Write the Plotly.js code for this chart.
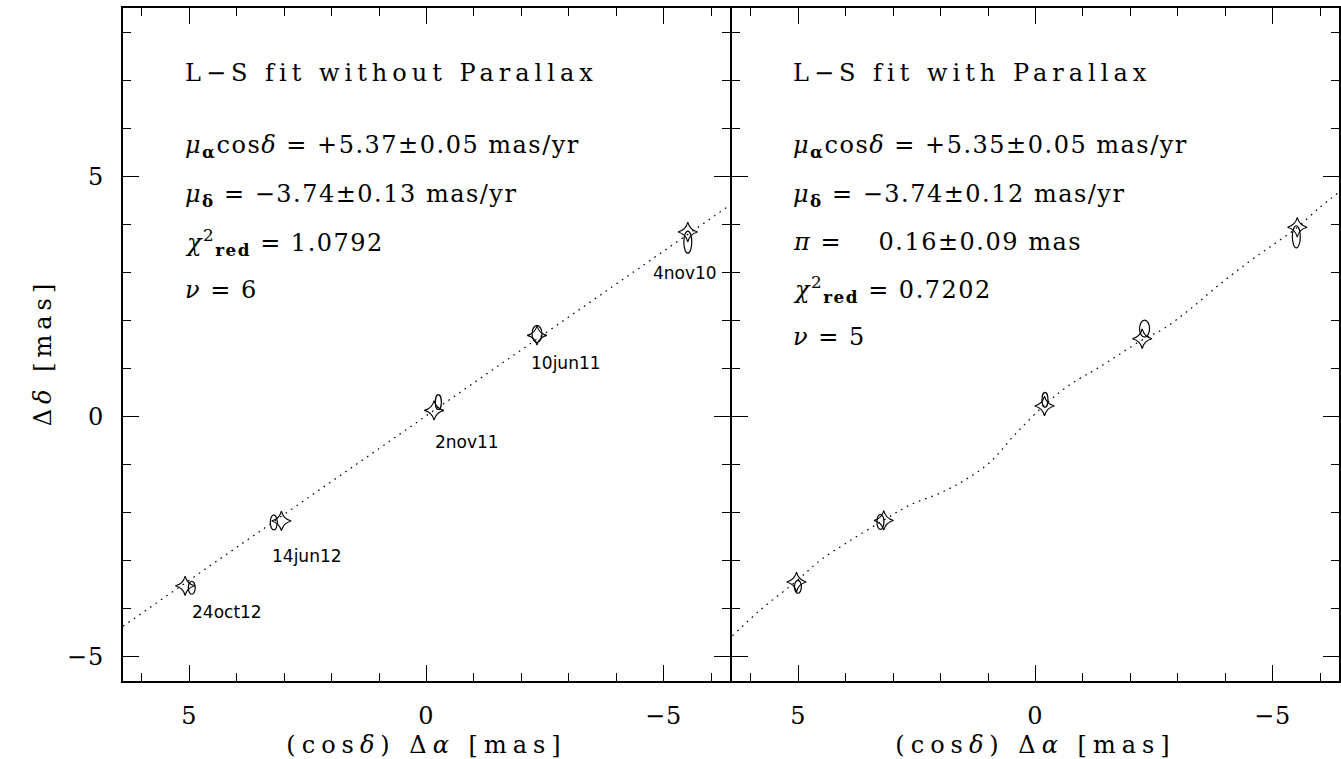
<!DOCTYPE html>
<html><head><meta charset="utf-8">
<script src="https://cdn.plot.ly/plotly-3.0.1.min.js"></script>
<style>
html,body{margin:0;padding:0;background:#fff;}
</style></head><body>
<div id="chart" style="width:1341px;height:759px;"></div>
<script>
// ---------------- data (mas) ----------------
const epochs = ['24oct12', '14jun12', '2nov11', '10jun11', '4nov10'];

// Left panel: L-S fit without parallax
const modelX_noPar = [5.09, 3.06, -0.16, -2.33, -5.51];
const modelY_noPar = [-3.52, -2.17, 0.13, 1.69, 3.84];
const obsX_noPar = [4.95, 3.22, -0.25, -2.33, -5.51];
const obsY_noPar = [-3.56, -2.20, 0.30, 1.72, 3.63];
const fitX_noPar = [6.4, -6.4];
const fitY_noPar = [-4.36, 4.40];

// Right panel: L-S fit with parallax
const modelX_par = [5.04, 3.20, -0.19, -2.25, -5.52];
const modelY_par = [-3.44, -2.16, 0.22, 1.62, 3.94];
const obsX_par = [5.01, 3.27, -0.20, -2.30, -5.50];
const obsY_par = [-3.54, -2.19, 0.35, 1.83, 3.74];
const fitX_par = [6.39, 5.80, 5.04, 4.54, 3.91, 3.21, 2.65, 2.01, 1.49, 0.96, 0.44, -0.19, -0.72, -1.35, -2.24, -2.72, -3.24, -3.87, -4.50, -5.03, -5.50, -5.98, -6.40];
const fitY_par = [-4.56, -4.02, -3.42, -2.99, -2.58, -2.16, -1.84, -1.59, -1.32, -0.95, -0.38, 0.24, 0.66, 1.03, 1.59, 1.84, 2.22, 2.74, 3.22, 3.59, 3.92, 4.34, 4.67];

// Position error semi-axes of each epoch (mas)
const errX = [0.073, 0.074, 0.063, 0.105, 0.084];
const errY = [0.135, 0.156, 0.156, 0.177, 0.230];

// Fit results text
const leftTitle = 'L\u2212S fit without Parallax';
const rightTitle = 'L\u2212S fit with Parallax';
const leftStats = [
  '<i>\u03bc</i><sub><b>\u03b1</b></sub>cos<i>\u03b4</i> = +5.37\u00b10.05 mas/yr',
  '<i>\u03bc</i><sub><b>\u03b4</b></sub> = \u22123.74\u00b10.13 mas/yr',
  '<i>\u03c7</i><sup>2</sup><sub><b>red</b></sub> = 1.0792',
  '<i>\u03bd</i> = 6'
];
const rightStats = [
  '<i>\u03bc</i><sub><b>\u03b1</b></sub>cos<i>\u03b4</i> = +5.35\u00b10.05 mas/yr',
  '<i>\u03bc</i><sub><b>\u03b4</b></sub> = \u22123.74\u00b10.12 mas/yr',
  '<i>\u03c0</i> = \u00a0\u00a0 0.16\u00b10.09 mas',
  '<i>\u03c7</i><sup>2</sup><sub><b>red</b></sub> = 0.7202',
  '<i>\u03bd</i> = 5'
];

// ---------------- styling ----------------
const serif = 'DejaVu Serif';
const black = '#000';
// label offsets (px) of epoch names relative to model point
const labelDX = [42, 26, 33, 29, -3];
const labelDY = [-26, -35, -32, -28, -41];

const starMarker = {symbol: 'star-diamond-open', size: 14, color: black, line: {color: black, width: 1.1}};
const traces = [
  {x: fitX_noPar, y: fitY_noPar, xaxis: 'x', yaxis: 'y', mode: 'lines',
   line: {color: black, width: 1.2, dash: '1.6px,5px'}, hoverinfo: 'skip', showlegend: false},
  {x: modelX_noPar, y: modelY_noPar, text: epochs, xaxis: 'x', yaxis: 'y', mode: 'markers',
   marker: starMarker, showlegend: false},
  {x: fitX_par, y: fitY_par, xaxis: 'x2', yaxis: 'y2', mode: 'lines',
   line: {color: black, width: 1.2, dash: '1.6px,5px', shape: 'spline', smoothing: 1}, hoverinfo: 'skip', showlegend: false},
  {x: modelX_par, y: modelY_par, text: epochs, xaxis: 'x2', yaxis: 'y2', mode: 'markers',
   marker: starMarker, showlegend: false}
];

const shapes = [];
function addEllipses(xs, ys, xr, yr) {
  xs.forEach((cx, i) => {
    shapes.push({type: 'circle', xref: xr, yref: yr,
      x0: cx - errX[i], x1: cx + errX[i], y0: ys[i] - errY[i], y1: ys[i] + errY[i],
      line: {color: black, width: 1.2}, fillcolor: 'rgba(0,0,0,0)'});
  });
}
addEllipses(obsX_noPar, obsY_noPar, 'x', 'y');
addEllipses(obsX_par, obsY_par, 'x2', 'y2');

const annotations = [];
epochs.forEach((e, i) => {
  annotations.push({xref: 'x', yref: 'y', x: modelX_noPar[i], y: modelY_noPar[i], text: e,
    showarrow: false, xshift: labelDX[i], yshift: labelDY[i],
    font: {family: 'DejaVu Sans', size: 17, color: black}});
});
const lineY = [0.7935, 0.7221, 0.6523, 0.5810, 0.5111];
function textNote(x, y, t) {
  return {xref: 'paper', yref: 'paper', x: x, y: y, xanchor: 'left', yanchor: 'middle', align: 'left',
    text: t, showarrow: false, font: {family: serif, size: 24, color: black}};
}
const leftTextX = 0.0493, rightTextX = 0.5494;
annotations.push(textNote(leftTextX, 0.9034, leftTitle));
annotations.push(textNote(rightTextX, 0.9034, rightTitle));
leftStats.forEach((t, i) => annotations.push(textNote(leftTextX, lineY[i], t)));
rightStats.forEach((t, i) => annotations.push(textNote(rightTextX, lineY[i], t)));

function axis(extra) {
  return Object.assign({
    showline: true, linewidth: 2, linecolor: black, mirror: 'ticks',
    ticks: 'inside', ticklen: 16, tickwidth: 1.2, tickcolor: black,
    showgrid: false, zeroline: false, tick0: 0, dtick: 5,
    minor: {dtick: 1, ticks: 'inside', ticklen: 8, tickwidth: 1.2, tickcolor: black, showgrid: false},
    tickfont: {family: serif, size: 24, color: black}, ticklabelstandoff: 12,
    fixedrange: true
  }, extra);
}

const xTitle = {text: '(cos<i>\u03b4</i>) \u0394<i>\u03b1</i> [mas]', font: {family: serif, size: 24, color: black}, standoff: 8};

const layout = {
  width: 1341, height: 759,
  margin: {l: 123, r: 2, t: 8, b: 78},
  paper_bgcolor: '#fff', plot_bgcolor: '#fff',
  showlegend: false,
  xaxis: axis({domain: [0, 607 / 1216], range: [6.4, -6.4], anchor: 'y', title: xTitle}),
  xaxis2: axis({domain: [609 / 1216, 1], range: [6.4, -6.4], anchor: 'y2', title: xTitle}),
  yaxis: axis({domain: [0, 1], range: [-5.5, 8.5], anchor: 'x',
    title: {text: '\u0394<i>\u03b4</i> [mas]', font: {family: serif, size: 24, color: black}, standoff: 10}}),
  yaxis2: axis({domain: [0, 1], range: [-5.5, 8.5], anchor: 'x2', showticklabels: false}),
  shapes: shapes,
  annotations: annotations
};

// widen the serif lettering like the original plotting font
function widen() {
  const root = document.getElementById('chart');
  root.querySelectorAll('.annotation-text').forEach(t => {
    if (!(t.getAttribute('style') || '').includes('DejaVu Serif')) return;
    const s = t.textContent;
    t.style.letterSpacing = s.indexOf('fit') >= 0 ? '5px' : '1.5px';
  });
  root.querySelectorAll('.xtitle, .x2title').forEach(t => { t.style.letterSpacing = '6px'; });
  root.querySelectorAll('.ytitle').forEach(t => {
    t.style.letterSpacing = '5px';
    t.setAttribute('transform', 'translate(0,8) ' + (t.getAttribute('transform') || ''));
  });
  root.querySelectorAll('.xtick text, .ytick text, .x2tick text').forEach(t => { t.style.letterSpacing = '1px'; });
}

Plotly.newPlot('chart', traces, layout, {displayModeBar: false}).then(widen);
</script>
</body></html>
